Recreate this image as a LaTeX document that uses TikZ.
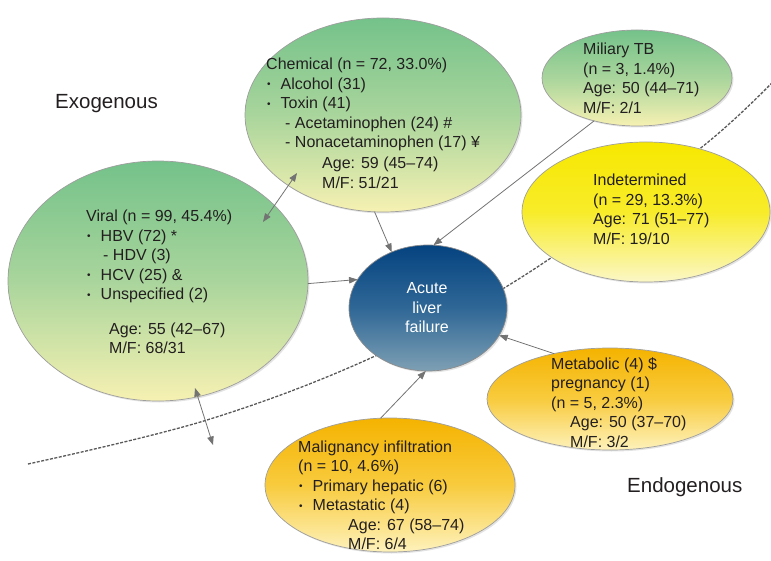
\documentclass[tikz,border=0pt]{standalone}
\usepackage{fontspec}
\setmainfont{Liberation Sans}
\usetikzlibrary{shapes.geometric,arrows.meta,shadows}

\definecolor{txt}{HTML}{231F20}
\definecolor{gtop}{HTML}{74C28A}
\definecolor{gmid}{HTML}{A9D59C}
\definecolor{gbot}{HTML}{F6F1B2}
\definecolor{ytop}{HTML}{F7E800}
\definecolor{ymid}{HTML}{F8EC2A}
\definecolor{ybot}{HTML}{FBF7C6}
\definecolor{otop}{HTML}{F5B300}
\definecolor{omid}{HTML}{F8CB3E}
\definecolor{obot}{HTML}{FEF2BC}
\definecolor{btop}{HTML}{054380}
\definecolor{bmid}{HTML}{2F6796}
\definecolor{bbot}{HTML}{7EA0B4}

\newcommand{\bul}{\makebox[14.5pt][l]{\hspace{1pt}{\fontsize{10}{10}\selectfont\raisebox{1.5pt}{•}}}}

\begin{document}
\begin{tikzpicture}[x=1pt,y=-1pt,
  blob/.style={ellipse, inner sep=0pt, outer sep=0pt, draw=black!38, line width=0.7pt,
    drop shadow={shadow xshift=1.5pt, shadow yshift=-1.5pt, opacity=0.22}},
  gblob/.style={blob, top color=gtop, bottom color=gbot, middle color=gmid},
  yblob/.style={blob, top color=ytop, bottom color=ybot, middle color=ymid},
  oblob/.style={blob, top color=otop, bottom color=obot, middle color=omid},
  bblob/.style={blob, top color=btop, bottom color=bbot, middle color=bmid, draw=black!45},
  lbl/.style={anchor=base west, inner sep=0pt, text=txt, font=\fontsize{16}{19.5}\selectfont},
  side/.style={anchor=base west, inner sep=0pt, text=txt, font=\fontsize{20.5}{24}\selectfont},
  link/.style={draw=black!55, line width=0.8pt, -{Triangle[length=8.5pt,width=6.5pt]}},
  dlink/.style={draw=black!55, line width=0.8pt, {Triangle[length=8.5pt,width=6.5pt]}-{Triangle[length=8.5pt,width=6.5pt]}},
  dashline/.style={draw=black!65, line width=1.3pt, dash pattern=on 3pt off 1.5pt},
]
\useasboundingbox (0,0) rectangle (771,561);
\clip (0,0) rectangle (771,561);

% boundary between exogenous and endogenous
\draw[dashline] plot[smooth, tension=0.6] coordinates {(28,464) (207,420) (373,357) (525,275) (702,147) (790,64)};

% ellipses
\node[gblob, minimum width=276pt, minimum height=194pt] (chem) at (383,115) {};
\node[gblob, minimum width=190pt, minimum height=96pt] (mil) at (637,78) {};
\node[yblob, minimum width=248pt, minimum height=140pt] (ind) at (646,212) {};
\node[gblob, minimum width=300pt, minimum height=240pt] (viral) at (158,281) {};
\node[bblob, minimum width=158pt, minimum height=126pt] (acute) at (428,308) {};
\node[oblob, minimum width=246pt, minimum height=102pt] (meta) at (610,399) {};
\node[oblob, minimum width=250pt, minimum height=134pt] (malig) at (390,485) {};

% connectors
\draw[link] (chem.265) -- (acute.123);
\draw[link] (mil.225) -- (acute.85);
\draw[link] (viral.-1) -- (acute.158);
\draw[link] (meta.141) -- (acute.339);
\draw[link] (malig.98) -- (acute.268);

\coordinate (vc1) at (263,222);
\coordinate (vc2) at (297,173);
\coordinate (vm1) at (195,388);
\coordinate (vm2) at (213,445);
\draw[dlink] (vc1) -- (vc2);
\draw[dlink] (vm1) -- (vm2);

% texts
\node[lbl] (chemT) at (266,70) {\begin{tabular}[t]{@{}l@{}}
Chemical (n = 72, 33.0\%)\\
\bul Alcohol (31)\\
\bul Toxin (41)\\
\hspace*{19pt}- Acetaminophen (24) \#\\
\hspace*{19pt}- Nonacetaminophen (17) ¥\\[1.5pt]
\hspace*{56pt}Age: 59 (45--74)\\
\hspace*{56pt}M/F: 51/21
\end{tabular}};

\node[lbl] (viralT) at (86,222) {\begin{tabular}[t]{@{}l@{}}
Viral (n = 99, 45.4\%)\\
\bul HBV (72) *\\
\hspace*{17pt}- HDV (3)\\
\bul HCV (25) \&\\
\bul Unspecified (2)\\[15pt]
\hspace*{23pt}Age: 55 (42--67)\\
\hspace*{23pt}M/F: 68/31
\end{tabular}};

\node[lbl] (milT) at (583,55) {\begin{tabular}[t]{@{}l@{}}
Miliary TB\\
(n = 3, 1.4\%)\\
Age: 50 (44--71)\\
M/F: 2/1
\end{tabular}};

\node[lbl] (indT) at (593,186) {\begin{tabular}[t]{@{}l@{}}
Indetermined\\
(n = 29, 13.3\%)\\
Age: 71 (51--77)\\
M/F: 19/10
\end{tabular}};

\node[lbl, anchor=base, text=white] (acuteT) at (427,294) {\begin{tabular}[t]{@{}c@{}}
Acute\\
liver\\
failure
\end{tabular}};

\node[lbl] (metaT) at (551,369) {\begin{tabular}[t]{@{}l@{}}
Metabolic (4) \$\\
pregnancy (1)\\
(n = 5, 2.3\%)\\
\hspace*{19pt}Age: 50 (37--70)\\
\hspace*{19pt}M/F: 3/2
\end{tabular}};

\node[lbl] (maligT) at (298,452) {\begin{tabular}[t]{@{}l@{}}
Malignancy infiltration\\
(n = 10, 4.6\%)\\
\bul Primary hepatic (6)\\
\bul Metastatic (4)\\
\hspace*{50pt}Age: 67 (58--74)\\
\hspace*{50pt}M/F: 6/4
\end{tabular}};

\node[side] (exo) at (55,109) {Exogenous};
\node[side] (endo) at (627,492) {Endogenous};
\end{tikzpicture}
\end{document}
